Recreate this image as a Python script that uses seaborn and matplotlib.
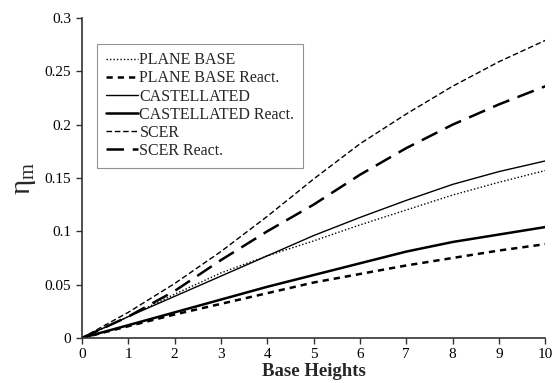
import matplotlib
matplotlib.use("Agg")
import matplotlib.pyplot as plt
import seaborn as sns
import pandas as pd

base_heights = [0, 1, 2, 3, 4, 5, 6, 7, 8, 9, 10]

plane_base = [0, 0.020, 0.041, 0.061, 0.077, 0.091, 0.106, 0.120, 0.134, 0.146, 0.157]
plane_base_react = [0, 0.011, 0.022, 0.032, 0.042, 0.052, 0.060, 0.068, 0.075, 0.082, 0.088]
castellated = [0, 0.020, 0.039, 0.058, 0.077, 0.096, 0.113, 0.129, 0.144, 0.156, 0.166]
castellated_react = [0, 0.012, 0.024, 0.036, 0.048, 0.059, 0.070, 0.081, 0.090, 0.097, 0.104]
scer = [0, 0.024, 0.051, 0.081, 0.114, 0.149, 0.182, 0.210, 0.236, 0.259, 0.279]
scer_react = [0, 0.020, 0.044, 0.073, 0.100, 0.125, 0.153, 0.178, 0.200, 0.219, 0.236]

series = {
    "PLANE BASE": plane_base,
    "PLANE BASE React.": plane_base_react,
    "CASTELLATED": castellated,
    "CASTELLATED React.": castellated_react,
    "SCER": scer,
    "SCER React.": scer_react,
}

# line look for each series: (linewidth, linestyle)
styles = {
    "PLANE BASE": (1.0, (0, (1, 1.5))),
    "PLANE BASE React.": (1.8, (0, (2.5, 2))),
    "CASTELLATED": (1.0, "-"),
    "CASTELLATED React.": (1.8, "-"),
    "SCER": (1.0, (0, (4, 2))),
    "SCER React.": (1.8, (0, (7, 3.5))),
}

sns.set_style("ticks")
plt.rcParams["font.family"] = ["Liberation Serif", "DejaVu Serif"]

fig, ax = plt.subplots(figsize=(5.53, 3.83), dpi=100)
fig.subplots_adjust(left=0.148, right=0.986, bottom=0.1175, top=0.953)

for name, vals in series.items():
    df = pd.DataFrame({"x": base_heights, "y": vals})
    lw, ls = styles[name]
    sns.lineplot(data=df, x="x", y="y", ax=ax, color="black",
                 linewidth=lw, linestyle=ls, label=name)

ax.set_xlim(0, 10)
ax.set_ylim(0, 0.3)
ax.set_xticks(range(0, 11))
ax.set_yticks([0, 0.05, 0.1, 0.15, 0.2, 0.25, 0.3])
ax.set_yticklabels(["0", "0.05", "0.1", "0.15", "0.2", "0.25", "0.3"])
ax.tick_params(labelsize=11, length=4, width=1, colors="#333333", labelcolor="black")
ax.tick_params(axis="x", pad=3.5)
for s in ["left", "bottom"]:
    ax.spines[s].set_linewidth(1.2)
    ax.spines[s].set_color("#333333")
sns.despine(ax=ax)

ax.set_xlabel("Base Heights", fontsize=13.5, fontweight="bold", labelpad=1.5)
ax.set_ylabel(r"$\mathregular{\eta_m}$", fontsize=21, labelpad=5)

leg = ax.legend(loc="upper left", bbox_to_anchor=(0.033, 0.92), fontsize=11.5,
                frameon=True, fancybox=False, edgecolor="#777777",
                handlelength=2.0, handletextpad=0.1, labelspacing=0.13,
                borderpad=0.55, borderaxespad=0)
leg.get_frame().set_linewidth(0.8)

fig.savefig("out.png", dpi=100)
